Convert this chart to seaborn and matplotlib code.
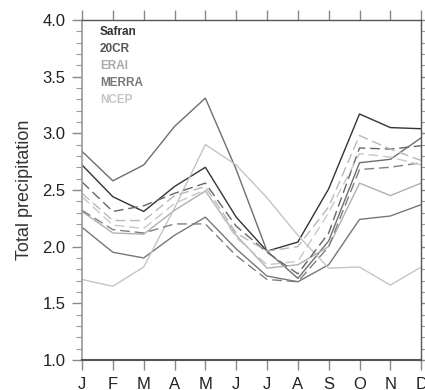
import matplotlib
matplotlib.use("Agg")
import matplotlib.pyplot as plt
import seaborn as sns
import numpy as np
import pandas as pd
from matplotlib.ticker import MultipleLocator

months = ["J", "F", "M", "A", "M", "J", "J", "A", "S", "O", "N", "D"]

safran = [2.72, 2.44, 2.31, 2.53, 2.70, 2.26, 1.96, 2.04, 2.51, 3.17, 3.05, 3.04]
merra_solid = [2.84, 2.58, 2.72, 3.06, 3.31, 2.68, 1.96, 1.72, 2.05, 2.74, 2.77, 2.96]
erai_solid = [2.31, 2.12, 2.11, 2.32, 2.49, 2.10, 1.81, 1.84, 2.00, 2.56, 2.45, 2.56]
cr20_solid = [2.17, 1.95, 1.90, 2.10, 2.26, 1.98, 1.74, 1.69, 1.84, 2.24, 2.27, 2.37]
ncep_solid = [1.71, 1.65, 1.82, 2.34, 2.90, 2.72, 2.43, 2.10, 1.81, 1.82, 1.66, 1.82]
cr20_dashed = [2.57, 2.31, 2.36, 2.47, 2.56, 2.18, 1.95, 1.76, 2.12, 2.87, 2.86, 2.89]
merra_dashed = [2.32, 2.15, 2.12, 2.20, 2.20, 1.92, 1.71, 1.69, 2.00, 2.68, 2.70, 2.74]
erai_dashed = [2.47, 2.23, 2.23, 2.45, 2.53, 2.12, 1.96, 2.00, 2.35, 2.98, 2.86, 2.76]
ncep_dashed = [2.44, 2.19, 2.16, 2.38, 2.50, 2.08, 1.84, 1.87, 2.30, 2.82, 2.79, 2.72]

legend_names = ["Safran", "20CR", "ERAI", "MERRA", "NCEP"]
legend_colors = ["#333333", "#555555", "#aaaaaa", "#777777", "#c4c4c4"]

series = [
    (safran, "#333333", "-"),
    (merra_solid, "#6e6e6e", "-"),
    (erai_solid, "#b0b0b0", "-"),
    (cr20_solid, "#777777", "-"),
    (ncep_solid, "#c4c4c4", "-"),
    (cr20_dashed, "#666666", (0, (7, 3.5))),
    (merra_dashed, "#808080", (0, (7, 3.5))),
    (erai_dashed, "#b8b8b8", (0, (7, 3.5))),
    (ncep_dashed, "#c8c8c8", (0, (7, 3.5))),
]

sns.set_style("white")
plt.rcParams["font.family"] = ["Liberation Sans", "DejaVu Sans"]

fig = plt.figure(figsize=(4.25, 3.9), dpi=100)
ax = fig.add_axes([0.193, 0.077, 0.798, 0.872])

x = np.arange(len(months))
for vals, col, ls in series:
    sns.lineplot(x=x, y=vals, color=col, linestyle=ls, linewidth=1.0, ax=ax)

ax.set_xlim(0, 11)
ax.set_ylim(1.0, 4.0)
ax.set_xticks(x)
ax.set_xticklabels(months)
ax.yaxis.set_major_locator(MultipleLocator(0.5))
ax.yaxis.set_minor_locator(MultipleLocator(0.1))
ax.yaxis.set_major_formatter(matplotlib.ticker.FormatStrFormatter("%.1f"))

ax.tick_params(axis="both", which="major", direction="out", length=7, width=1,
               color="#888888", labelsize=12, labelcolor="#222222",
               top=True, right=True, bottom=True, left=True, pad=5)
ax.tick_params(axis="y", which="minor", direction="out", length=4, width=0.8,
               color="#999999", left=True, right=True)

for side in ["top", "right", "bottom"]:
    ax.spines[side].set_color("#555555")
    ax.spines[side].set_linewidth(1.0)
ax.spines["left"].set_color("#999999")
ax.spines["left"].set_linewidth(1.2)
ax.spines["bottom"].set_linewidth(1.5)

ax.set_xlabel("")
ax.set_ylabel("Total precipitation", fontsize=13, color="#333333", labelpad=7)

for i, (name, col) in enumerate(zip(legend_names, legend_colors)):
    ax.text(0.053, 0.965 - i * 0.05, name, transform=ax.transAxes,
            fontsize=8.5, fontweight="bold", color=col, va="center", ha="left")

fig.savefig("out.png", dpi=100)
